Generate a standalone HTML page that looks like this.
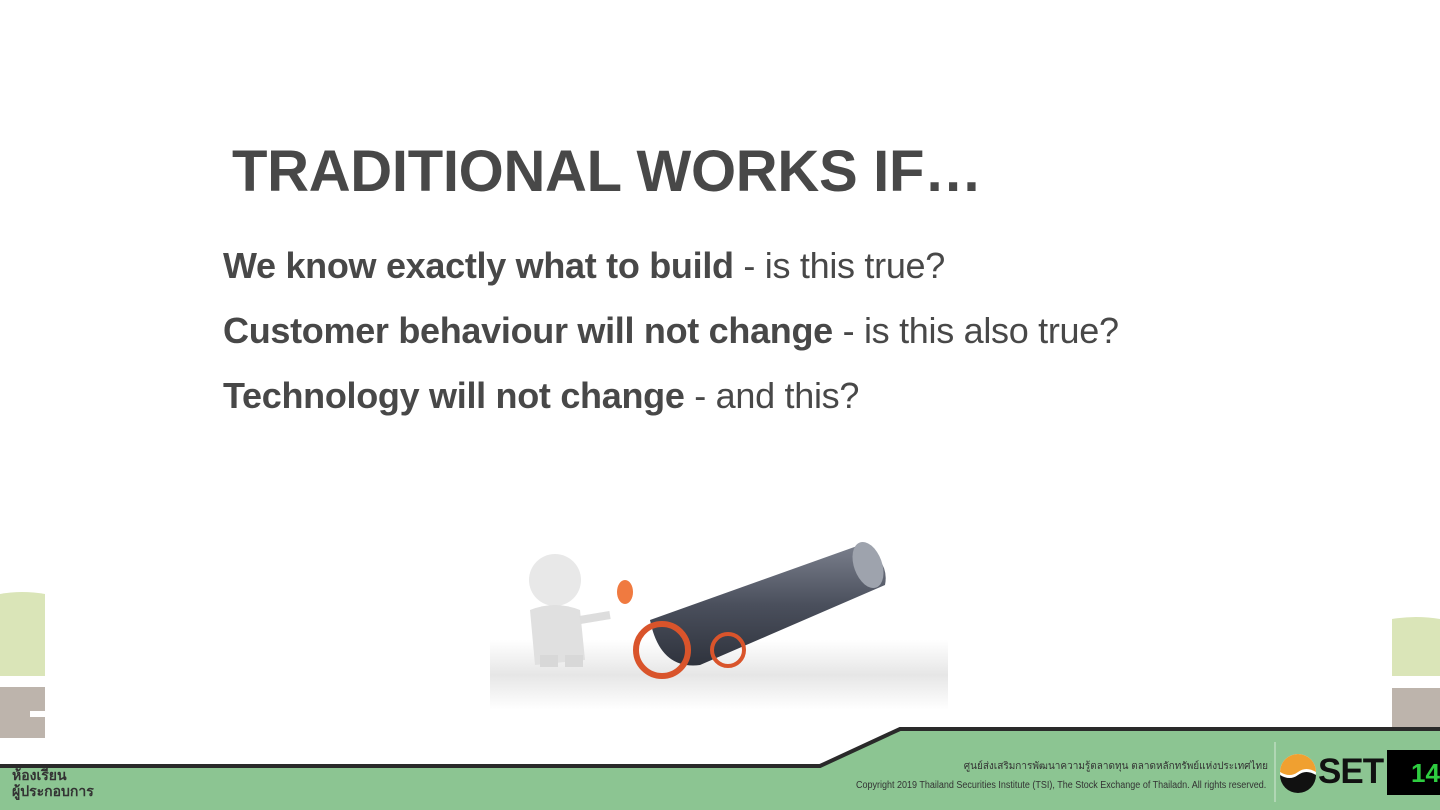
<!DOCTYPE html>
<html><head><meta charset="utf-8"><style>
body{margin:0;width:1440px;height:810px;overflow:hidden;background:#fff;position:relative;font-family:"Liberation Sans","Noto Sans CJK SC",sans-serif;}
.abs{position:absolute}
h1{position:absolute;left:232px;top:138px;margin:0;font-size:58px;font-weight:bold;color:#484848;white-space:nowrap;letter-spacing:-0.3px}
.line{position:absolute;left:223px;font-size:36px;color:#484848;white-space:nowrap;letter-spacing:-0.3px}
.line b{font-weight:bold}
</style></head><body>
<h1>TRADITIONAL WORKS IF…</h1>
<div class="line" style="top:245px"><b>We know exactly what to build</b> - is this true?</div>
<div class="line" style="top:310px"><b>Customer behaviour will not change</b> - is this also true?</div>
<div class="line" style="top:375px"><b>Technology will not change</b> - and this?</div>

<svg class="abs" style="left:0;top:0" width="1440" height="810">
<defs><linearGradient id="sh" x1="0" y1="0" x2="0" y2="1"><stop offset="0" stop-color="#fff"/><stop offset="0.5" stop-color="#e6e6e6"/><stop offset="1" stop-color="#fff"/></linearGradient>
<linearGradient id="cn" x1="0" y1="0" x2="0" y2="1"><stop offset="0" stop-color="#7a7f8c"/><stop offset="0.5" stop-color="#4a4f5c"/><stop offset="1" stop-color="#2f333d"/></linearGradient></defs>
<g>
<path d="M0 594 Q22 590 45 594 L45 676 L0 676Z" fill="#dae5b8"/>
<rect x="0" y="687" width="45" height="51" fill="#bdb4ac"/>
<rect x="30" y="711" width="15" height="6" fill="#fff"/>
</g>
<g>
<path d="M1392 619 Q1416 615 1440 619 L1440 676 L1392 676Z" fill="#dae5b8"/>
<rect x="1392" y="688" width="48" height="50" fill="#bdb4ac"/>
</g>
<g>
<rect x="490" y="640" width="458" height="70" fill="url(#sh)"/>
<path d="M650 620 L860 545 Q890 560 885 585 L700 665 Q660 670 650 620Z" fill="url(#cn)"/>
<ellipse cx="868" cy="565" rx="14" ry="24" fill="#9ea3ad" transform="rotate(-20 868 565)"/>
<circle cx="662" cy="650" r="26" fill="none" stroke="#d9542b" stroke-width="6"/>
<circle cx="728" cy="650" r="16" fill="none" stroke="#d9542b" stroke-width="4"/>
<circle cx="555" cy="580" r="26" fill="#e8e8e8"/>
<path d="M530 610 Q555 600 580 610 L585 660 L535 665Z" fill="#e0e0e0"/>
<rect x="540" y="655" width="18" height="12" fill="#d8d8d8"/>
<rect x="565" y="655" width="18" height="12" fill="#d8d8d8"/>
<path d="M580 620 L610 615" stroke="#ddd" stroke-width="8"/>
<ellipse cx="625" cy="592" rx="8" ry="12" fill="#f07a40"/>
</g>
<g>
<path d="M0 766 L820 766 L900 729 L1440 729 L1440 810 L0 810Z" fill="#8cc592"/>
<path d="M0 766 L820 766 L900 729 L1440 729" fill="none" stroke="#2a2a2a" stroke-width="4"/>
<line x1="1275" y1="742" x2="1275" y2="802" stroke="#d5e8d7" stroke-width="1"/>
<rect x="1387" y="750" width="53" height="45" fill="#000"/>
<circle cx="1298" cy="772" r="18" fill="#fff"/>
<path d="M1280 772 A18 18 0 0 1 1316 772 Q1306 766 1298 772 Q1290 778 1280 772Z" fill="#f0a030"/>
<path d="M1280 775 Q1290 781 1298 775 Q1306 769 1316 775 A18 18 0 0 1 1280 775Z" fill="#111"/>
</g>
</svg>
<div class="abs" style="left:1318px;top:752px;font-size:35px;font-weight:bold;color:#111;letter-spacing:-1px">SET</div>
<div class="abs" style="left:1411px;top:758px;font-size:26px;font-weight:bold;color:#2ecc40">14</div>
<div class="abs" style="right:172px;top:759px;font-size:10px;color:#333;white-space:nowrap">ศูนย์ส่งเสริมการพัฒนาความรู้ตลาดทุน ตลาดหลักทรัพย์แห่งประเทศไทย</div>
<div class="abs" style="left:856px;top:780px;font-size:10px;color:#333;white-space:nowrap;transform:scaleX(0.9);transform-origin:left">Copyright 2019 Thailand Securities Institute (TSI), The Stock Exchange of Thailadn. All rights reserved.</div>
<div class="abs" style="left:12px;top:767px;font-size:14px;font-weight:bold;color:#333;line-height:16px">ห้องเรียน<br>ผู้ประกอบการ</div>
</body></html>
